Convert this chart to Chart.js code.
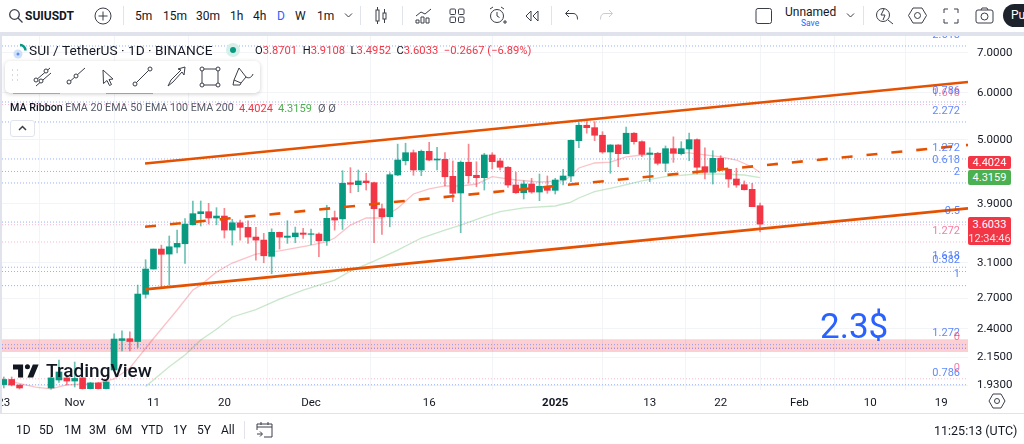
<!DOCTYPE html>
<html>
<head>
<meta charset="utf-8">
<script src="https://cdn.jsdelivr.net/npm/chart.js@4"></script>
<style>
html, body { margin: 0; padding: 0; background: #fff; overflow: hidden; }
body { width: 1024px; height: 444px; position: relative; font-family: Roboto, sans-serif; color: #131722; }
#wrap { position: absolute; left: 0; top: 36px; width: 1024px; height: 377px; }
.t { position: absolute; white-space: nowrap; line-height: 1; }
svg.i { position: absolute; fill: none; stroke: #3a3e49; stroke-width: 1; }
.tag { position: absolute; left: 968px; width: 43px; color: #fff; font-size: 11px; text-align: center; border-radius: 2px; }
.top { font-size: 12px; top: 10px; }
.bot { font-size: 12px; top: 424px; }
</style>
</head>
<body>
<div id="wrap"><canvas id="myChart" width="1024" height="377"></canvas></div>

<!-- frame -->
<div style="position:absolute;left:0;top:32px;width:1024px;height:4px;background:#e0e3eb"></div>
<div style="position:absolute;left:0;top:32px;width:2px;height:382px;background:#e0e3eb"></div>
<div style="position:absolute;left:0;top:413px;width:1024px;height:1px;background:#e0e3eb"></div>

<!-- top bar -->
<svg class="i" style="left:8px;top:8px;stroke-width:1.3" width="16" height="16"><circle cx="6.5" cy="6.5" r="4.8"/><path d="M10 10l4.5 4.5"/></svg>
<div class="t" style="left:25px;top:10px;font-size:12px;font-weight:700">SUIUSDT</div>
<svg class="i" style="left:94px;top:7px" width="18" height="18"><circle cx="9" cy="9" r="8"/><path d="M9 4.5v9M4.5 9h9"/></svg>
<div style="position:absolute;left:123px;top:6px;width:1px;height:19px;background:#e0e3eb"></div>
<div class="t top" style="left:135px">5m</div>
<div class="t top" style="left:163px">15m</div>
<div class="t top" style="left:196px">30m</div>
<div class="t top" style="left:230px">1h</div>
<div class="t top" style="left:253px">4h</div>
<div class="t top" style="left:277px;color:#2962ff">D</div>
<div class="t top" style="left:295px">W</div>
<div class="t top" style="left:317px">1m</div>
<svg class="i" style="left:344px;top:12px" width="9" height="7"><path d="M1 1.5l3.5 3.5 3.5-3.5"/></svg>
<div style="position:absolute;left:360px;top:6px;width:1px;height:19px;background:#e0e3eb"></div>
<svg class="i" style="left:374px;top:6px" width="14" height="20"><rect x="2" y="4" width="3" height="11"/><path d="M3.5 1v3M3.5 15v3"/><rect x="9" y="7" width="3" height="6"/><path d="M10.5 3v4M10.5 13v4"/></svg>
<div style="position:absolute;left:402px;top:6px;width:1px;height:19px;background:#e0e3eb"></div>
<svg class="i" style="left:415px;top:7px" width="17" height="18"><path d="M1 9l5-4 4 2 6-5"/><path d="M1 16v-3h3v3zM6 16v-6h3v6zM11 16v-5h3v5z"/></svg>
<svg class="i" style="left:449px;top:7px" width="16" height="17"><rect x="1" y="2" width="5.5" height="5.5" rx="1"/><rect x="9.5" y="2" width="5.5" height="5.5" rx="1"/><rect x="1" y="10" width="5.5" height="5.5" rx="1"/><rect x="9.5" y="10" width="5.5" height="5.5" rx="1"/></svg>
<svg class="i" style="left:488px;top:6px" width="20" height="20"><circle cx="9" cy="10" r="6.5"/><path d="M9 6v4l2.5 1.500M2 3l3-2M13 1l3 2M15 16h4M17 14v4"/></svg>
<svg class="i" style="left:524px;top:9px" width="16" height="14"><path d="M7 2l-5 5 5 5zM14 2l-5 5 5 5z"/></svg>
<div style="position:absolute;left:551px;top:6px;width:1px;height:19px;background:#e0e3eb"></div>
<svg class="i" style="left:564px;top:9px" width="16" height="13"><path d="M5 1L1.500 4.500 5 8M2 4.500h7c3 0 4.500 2 4.500 6"/></svg>
<svg class="i" style="left:598px;top:9px;stroke:#c8cbd3" width="16" height="13"><path d="M11 1l3.500 3.500L11 8M14 4.500H7c-3 0-4.500 2-4.500 6"/></svg>
<svg class="i" style="left:754px;top:6px" width="20" height="20"><rect x="2" y="2.500" width="15.500" height="15" rx="2"/></svg>
<div class="t" style="left:785px;top:6px;font-size:12px">Unnamed</div>
<div class="t" style="left:801px;top:19px;font-size:8.500px;color:#2962ff">Save</div>
<svg class="i" style="left:846px;top:12px" width="9" height="7"><path d="M1 1.500l3.500 3.500 3.500-3.500"/></svg>
<div style="position:absolute;left:863px;top:6px;width:1px;height:19px;background:#e0e3eb"></div>
<svg class="i" style="left:875px;top:5px" width="19" height="20"><circle cx="8" cy="10" r="6.500"/><path d="M13 15l5 4M9 4l-3 6h4l-2 5"/></svg>
<svg class="i" style="left:908px;top:6px" width="19" height="19"><path d="M5 2h9l4.500 7.500L14 17H5L.5 9.500z"/><circle cx="9.500" cy="9.500" r="3"/></svg>
<svg class="i" style="left:943px;top:8px" width="16" height="16"><path d="M1 5V1h4M11 1h4v4M15 11v4h-4M5 15H1v-4"/></svg>
<svg class="i" style="left:975px;top:7px" width="19" height="17"><rect x="1" y="3" width="17" height="13" rx="2"/><circle cx="9.500" cy="9.500" r="3.500"/><path d="M6 3l1-2h5l1 2"/></svg>
<div style="position:absolute;left:1003px;top:4px;width:40px;height:23px;border-radius:12px;background:#1e222d;color:#fff;font-size:12px;line-height:23px;padding-left:8px;box-sizing:border-box">Publish</div>

<!-- legend -->
<svg style="position:absolute;left:12px;top:42px" width="16" height="17"><path d="M8 3a5.500 5.500 0 0 1 5.500 5.500" fill="none" stroke="#089981" stroke-width="2.500"/><circle cx="6" cy="12" r="4.500" fill="#cfe0fb"/><circle cx="6" cy="12" r="1.500" fill="#5b8df0"/></svg>
<div class="t" style="left:29px;top:43.500px;font-size:13.700px">SUI / TetherUS · 1D · BINANCE</div>
<div style="position:absolute;left:226px;top:43px;width:14px;height:14px;border-radius:7px;background:#d6efe9"></div>
<div style="position:absolute;left:230px;top:47px;width:6px;height:6px;border-radius:3px;background:#089981"></div>
<div class="t" style="left:255px;top:45px;font-size:11.200px">O<span style="color:#f23645">3.8701</span> &nbsp;H<span style="color:#f23645">3.9108</span> &nbsp;L<span style="color:#f23645">3.4952</span> &nbsp;C<span style="color:#f23645">3.6033</span> <span style="color:#f23645">&nbsp;−0.2667 (−6.89%)</span></div>

<!-- drawing toolbar -->
<div style="position:absolute;left:13px;top:92px;width:47px;height:2px;background:#f7a6ac"></div>
<div style="position:absolute;left:106px;top:92px;width:47px;height:2px;background:#9db8f5"></div>
<div style="position:absolute;left:5px;top:61px;width:255px;height:32px;background:#fff;border-radius:5px;box-shadow:0 1px 4px rgba(0,0,0,.2)"></div>
<svg class="i" style="left:10px;top:68px" width="10" height="16"><path d="M2 2h.5M7 2h.5M2 7h.5M7 7h.5M2 12h.5M7 12h.5" stroke="#b2b5be" stroke-width="2"/></svg>
<svg class="i" style="left:33px;top:66px" width="20" height="22"><path d="M2 15l15-13M3 20l15-13"/><circle cx="3" cy="14" r="2" fill="#fff"/><circle cx="13" cy="5" r="2" fill="#fff"/><circle cx="8" cy="15" r="2" fill="#fff"/></svg>
<svg class="i" style="left:66px;top:66px" width="20" height="20"><path d="M1 18L19 2"/><circle cx="3" cy="16" r="2" fill="#fff"/><circle cx="10" cy="10" r="2" fill="#fff"/></svg>
<svg class="i" style="left:101px;top:68px" width="14" height="18"><path d="M2 2l10 9-4 .500 2.500 5-2 1-2.500-5-3.500 3z"/></svg>
<svg class="i" style="left:132px;top:66px" width="22" height="22"><path d="M3 18L18 3"/><circle cx="3" cy="18" r="2" fill="#fff"/><circle cx="18" cy="3" r="2" fill="#fff"/></svg>
<svg class="i" style="left:166px;top:66px" width="20" height="22"><path d="M2 20l3-6L15 4l-3-1 7-2-1 8-2-3L7 16z"/></svg>
<svg class="i" style="left:199px;top:66px" width="22" height="22"><rect x="3" y="3" width="16" height="16"/><circle cx="3" cy="3" r="2" fill="#fff"/><circle cx="19" cy="3" r="2" fill="#fff"/><circle cx="3" cy="19" r="2" fill="#fff"/><circle cx="19" cy="19" r="2" fill="#fff"/></svg>
<svg class="i" style="left:231px;top:66px" width="24" height="22"><path d="M8 2L3 14l7 3 5-6zM3 14l-1 5h7l1-2M15 11c3 2 6 0 7-3"/></svg>
<div class="t" style="left:10px;top:103px;font-size:10.700px;color:#131722"><b style="font-weight:500">MA Ribbon</b> <span style="color:#555a66">EMA 20 EMA 50 EMA 100 EMA 200</span></div>
<div class="t" style="left:239px;top:103px;font-size:11px;color:#f23645">4.4024</div>
<div class="t" style="left:278px;top:103px;font-size:11px;color:#4caf50">4.3159</div>
<div class="t" style="left:318px;top:103px;font-size:11px;color:#555a66">Ø Ø</div>
<div style="position:absolute;left:10px;top:120px;width:25px;height:17px;box-sizing:border-box;border:1px solid #e0e3eb;border-radius:3px;background:#fff"></div>
<svg class="i" style="left:18px;top:125px;stroke-width:1.500" width="9" height="7"><path d="M1 5l3.500-3.500L8 5"/></svg>

<!-- annotation + logo -->
<div class="t" style="left:820px;top:309px;font-size:35px;color:#2962ff">2.3$</div>
<svg style="position:absolute;left:13px;top:363px" width="26" height="16" viewBox="0 4 36 18"><path fill="#131722" d="M14 22H7V11H0V4h14v18zM28 22h-8l7.500-18h8L28 22z"/><circle fill="#131722" cx="20" cy="7" r="3.500"/></svg>
<div class="t" style="left:46px;top:361px;font-size:19px;font-weight:500;color:#131722">TradingView</div>

<!-- price tags -->
<div class="tag" style="top:156px;height:13px;line-height:13px;background:#f23645">4.4024</div>
<div class="tag" style="top:170px;height:15px;line-height:15px;background:#4caf50">4.3159</div>
<div class="tag" style="top:217px;height:28px;line-height:13.500px;padding-top:1px;box-sizing:border-box;background:#f23645">3.6033<br><span style="opacity:.85">12:34:46</span></div>

<svg class="i" style="left:988px;top:392px" width="18" height="18"><path d="M5 2h8l4 7-4 7H5L1 9z"/><circle cx="9" cy="9" r="2.500"/></svg>

<!-- bottom bar -->
<div class="t bot" style="left:16px">1D</div>
<div class="t bot" style="left:39px">5D</div>
<div class="t bot" style="left:64px">1M</div>
<div class="t bot" style="left:89px">3M</div>
<div class="t bot" style="left:115px">6M</div>
<div class="t bot" style="left:141px">YTD</div>
<div class="t bot" style="left:173px">1Y</div>
<div class="t bot" style="left:197px">5Y</div>
<div class="t bot" style="left:221px">All</div>
<div style="position:absolute;left:244px;top:421px;width:1px;height:18px;background:#e0e3eb"></div>
<svg class="i" style="left:256px;top:421px" width="18" height="18"><path d="M1 9V3h15v13H8M1 6h15M5 1v3M12 1v3M1 13h5M4 10.500L6.500 13 4 15.500"/></svg>
<div class="t" style="left:934px;top:425px;font-size:12.500px">11:25:13 (UTC)</div>

<script>
var priceTicks = [7, 6, 5, 3.9, 3.1, 2.7, 2.4, 2.15, 1.93];
var dayTicks = [0, 9, 19, 28, 39, 54, 70, 82, 91, 101, 110, 119];
var dayLabels = ['23', 'Nov', '11', '20', 'Dec', '16', '2025', '13', '22', 'Feb', '10', '19'];

var opens = [1.933,1.972,1.930,1.88,1.85,1.86,1.908,1.968,1.984,1.960,
  1.984,1.903,1.946,1.903,2.046,2.294,2.310,2.285,2.744,3.027,
  3.271,3.208,3.296,3.339,3.594,3.752,3.781,3.690,3.718,3.521,
  3.622,3.558,3.427,3.387,3.180,3.490,3.423,3.431,3.481,3.463,
  3.467,3.378,3.694,3.678,4.231,4.199,4.260,4.232,3.825,3.708,
  4.360,4.608,4.754,4.446,4.780,4.621,4.633,4.338,4.066,4.581,
  4.355,4.315,4.712,4.604,4.493,4.194,4.070,4.210,4.081,4.173,
  4.108,4.276,4.343,4.981,5.288,5.239,5.087,4.767,4.899,4.736,
  5.127,4.962,4.724,4.743,4.563,4.829,4.736,4.823,5.001,4.503,
  4.406,4.651,4.458,4.293,4.199,4.124,3.8701];
var highs = [1.991,1.991,1.932,1.888,1.88,1.885,1.991,2.127,2.000,2.110,
  1.990,1.950,1.950,1.960,2.353,2.382,2.373,2.844,3.139,3.271,
  3.322,3.441,3.521,3.680,3.942,3.942,3.906,3.841,3.831,3.671,
  3.661,3.651,3.558,3.476,3.539,3.494,3.651,3.562,3.544,3.535,
  3.484,3.877,3.791,4.434,4.486,4.446,4.389,4.243,3.896,4.400,
  4.915,4.932,4.804,4.804,4.950,4.855,4.754,4.604,4.604,4.915,
  4.590,4.743,4.754,4.651,4.503,4.406,4.264,4.304,4.377,4.343,
  4.304,4.458,4.995,5.342,5.363,5.363,5.158,4.905,4.905,5.249,
  5.141,4.976,4.847,4.762,4.880,5.056,4.962,5.128,5.015,4.847,
  4.791,4.699,4.463,4.475,4.260,4.222,3.9108];
var lows = [1.908,1.923,1.900,1.82,1.80,1.81,1.900,1.950,1.930,1.915,
  1.900,1.900,1.900,1.900,2.040,2.204,2.204,2.233,2.704,3.027,
  2.825,2.844,3.223,3.094,3.590,3.577,3.604,3.594,3.414,3.322,
  3.387,3.344,3.134,3.102,2.972,3.271,3.344,3.352,3.410,3.326,
  3.175,3.318,3.521,3.530,4.070,4.086,4.113,3.352,3.463,3.566,
  4.348,4.533,4.355,4.348,4.608,4.446,4.178,3.931,3.485,4.222,
  4.166,4.113,4.463,4.446,4.156,4.061,3.972,4.061,3.946,4.061,
  4.050,4.194,4.248,4.848,5.128,4.981,4.743,4.389,4.503,4.730,
  4.913,4.681,4.248,4.533,4.416,4.580,4.712,4.608,4.377,4.293,
  4.210,4.446,4.156,4.156,4.113,3.856,3.4952];
var closes = [1.972,1.930,1.908,1.85,1.86,1.87,1.984,2.030,1.960,1.980,
  1.903,1.946,1.903,1.953,2.307,2.310,2.285,2.747,3.027,3.271,
  3.205,3.300,3.344,3.604,3.752,3.781,3.690,3.718,3.521,3.622,
  3.558,3.427,3.387,3.187,3.490,3.427,3.440,3.481,3.463,3.471,
  3.378,3.685,3.661,4.222,4.206,4.260,4.232,3.825,3.708,4.365,
  4.621,4.754,4.446,4.780,4.621,4.639,4.331,4.061,4.581,4.348,
  4.315,4.712,4.591,4.493,4.194,4.070,4.210,4.081,4.173,4.108,
  4.276,4.343,4.989,5.288,5.239,5.087,4.767,4.899,4.736,5.127,
  4.962,4.724,4.749,4.563,4.829,4.743,4.829,5.001,4.493,4.406,
  4.651,4.458,4.293,4.194,4.118,3.856,3.6033];

// EMA at the days where it could be seen
var ema20Days = [1,4,6,8,12,14,16,17,19,22,24,25,27,29,32,35,39,41,42,44,46,48,50,52,54,56,58,60,62,65,68,71,72,73,75,77,79,81,84,87,91,93,95,96];
var ema20 = [1.955,1.915,1.901,1.931,1.944,1.976,2.062,2.143,2.312,2.582,2.790,2.844,2.993,3.098,3.208,3.249,3.322,3.366,3.414,3.590,3.690,3.690,3.831,4.050,4.130,4.178,4.178,4.210,4.331,4.276,4.243,4.260,4.343,4.480,4.568,4.585,4.676,4.712,4.749,4.749,4.676,4.621,4.498,4.4024];
var ema50Days = [18,21,23,25,27,29,32,35,38,42,44,47,50,53,56,58,61,63,66,70,72,73,75,78,81,84,88,91,94,96];
var ema50 = [1.918,2.072,2.168,2.298,2.397,2.513,2.585,2.694,2.790,2.900,3.003,3.122,3.258,3.414,3.521,3.590,3.708,3.781,3.837,3.866,3.926,3.988,4.086,4.166,4.260,4.331,4.377,4.377,4.360,4.3159];

// channel drawn on the chart: start day, end day, then price at each end
var channelDays = [17.93, 122.4];
var channelTop = [4.559, 6.255];
var channelMid = [3.566, 4.899];
var channelLow = [2.797, 3.831];

var fibBlue = [7.193,5.788,5.356,4.640,4.420,4.227,3.632,3.048,2.998,2.838,2.257,2.226,1.932];
var fibPink = [5.732,3.595,3.362,2.226,1.977];
var fibBlueLabels = ['2.618','0.786','2.272','1.272','0.618','2','0.5','1.618','0.382','1','1.272','','0.786'];
var fibPinkLabels = ['1.618','','1.272','0','0'];
var zoneTop = 2.304;
var zoneBottom = 2.194;

var minDay = -0.23;
var maxDay = 122.4;

function candleColor(i, alpha) {
  var c = closes[i] >= opens[i] ? '8,153,129' : '242,54,69';
  return 'rgba(' + c + ',' + alpha + ')';
}

var bodies = opens.map(function (o, i) { return { x: i, y: [o, closes[i]] }; });
var wicks = lows.map(function (l, i) { return { x: i, y: [l, highs[i]] }; });

function sparse(days, vals) {
  return days.map(function (d, i) { return { x: d, y: vals[i] }; });
}

function lineSet(days, vals, color, width, order, dash) {
  return {
    type: 'line', data: sparse(days, vals), borderColor: color, borderWidth: width,
    pointRadius: 0, tension: 0, order: order, borderDash: dash || [], fill: false
  };
}

var datasets = [
  lineSet(channelDays, channelTop, '#e65100', 2.6, 1),
  lineSet(channelDays, channelMid, '#e65100', 2.6, 1, [11, 14]),
  lineSet(channelDays, channelLow, '#e65100', 2.6, 1),
  { type: 'bar', data: bodies, barThickness: 6, grouped: false, order: 2,
    backgroundColor: bodies.map(function (b, i) { return candleColor(i, 1); }) },
  { type: 'bar', data: wicks, barThickness: 1, grouped: false, order: 3,
    backgroundColor: wicks.map(function (b, i) { return candleColor(i, 0.6); }) },
  lineSet(ema20Days, ema20, 'rgba(242,54,69,0.3)', 1.3, 4),
  lineSet(ema50Days, ema50, 'rgba(76,175,80,0.3)', 1.3, 4)
];

fibBlue.forEach(function (v) {
  datasets.push(lineSet([minDay, maxDay], [v, v], 'rgba(41,98,255,0.5)', 1, 6, [1, 2]));
});
fibPink.forEach(function (v) {
  datasets.push(lineSet([minDay, maxDay], [v, v], 'rgba(242,80,130,0.4)', 1, 6, [1, 2]));
});

// red support zone
var zoneA = lineSet([minDay, maxDay], [zoneTop, zoneTop], 'rgba(0,0,0,0)', 0, 7);
zoneA.fill = '+1';
zoneA.backgroundColor = 'rgba(242,54,69,0.24)';
datasets.push(zoneA);
datasets.push(lineSet([minDay, maxDay], [zoneBottom, zoneBottom], 'rgba(0,0,0,0)', 0, 7));

var fibText = {
  id: 'fibText',
  afterDatasetsDraw: function (chart) {
    var ctx = chart.ctx, y = chart.scales.y;
    ctx.save();
    ctx.font = '11px Roboto';
    ctx.textAlign = 'right';
    ctx.textBaseline = 'middle';
    function put(vals, labels, color) {
      vals.forEach(function (v, i) {
        if (!labels[i]) return;
        ctx.fillStyle = color;
        ctx.fillText(labels[i], 960, y.getPixelForValue(v) - 11);
      });
    }
    put(fibPink, fibPinkLabels, 'rgba(242,80,130,0.75)');
    put(fibBlue, fibBlueLabels, 'rgba(41,98,255,0.75)');
    ctx.restore();
  }
};

var myChart = new Chart(document.getElementById('myChart'), {
  data: { datasets: datasets },
  plugins: [fibText],
  options: {
    responsive: false,
    animation: false,
    spanGaps: true,
    layout: { padding: { left: 2, top: 0, right: 0, bottom: 0 } },
    plugins: { legend: { display: false }, tooltip: { enabled: false } },
    scales: {
      x: {
        type: 'linear', min: minDay, max: maxDay, offset: false,
        afterBuildTicks: function (s) { s.ticks = dayTicks.map(function (d) { return { value: d }; }); },
        afterFit: function (s) { s.height = 23; s.paddingLeft = 0; s.paddingRight = 0; },
        grid: { color: '#f3f4f7', drawTicks: false },
        border: { display: false },
        ticks: {
          autoSkip: false, maxRotation: 0, padding: 6, color: '#131722',
          font: function (c) {
            return { size: 11.5, family: 'Roboto', weight: c.tick && c.tick.value === 70 ? '700' : '400' };
          },
          callback: function (v, i) { return dayLabels[i]; }
        }
      },
      y: {
        type: 'logarithmic', position: 'right', min: 1.893, max: 7.477,
        afterBuildTicks: function (s) { s.ticks = priceTicks.map(function (v) { return { value: v }; }); },
        afterFit: function (s) { s.width = 56; s.paddingTop = 0; s.paddingBottom = 0; },
        grid: { color: '#f3f4f7', drawTicks: false },
        border: { display: false },
        ticks: {
          autoSkip: false, padding: 9, color: '#131722', font: { size: 11.5, family: 'Roboto' },
          callback: function (v) { return Number(v).toFixed(4); }
        }
      }
    }
  }
});
</script>
</body>
</html>
